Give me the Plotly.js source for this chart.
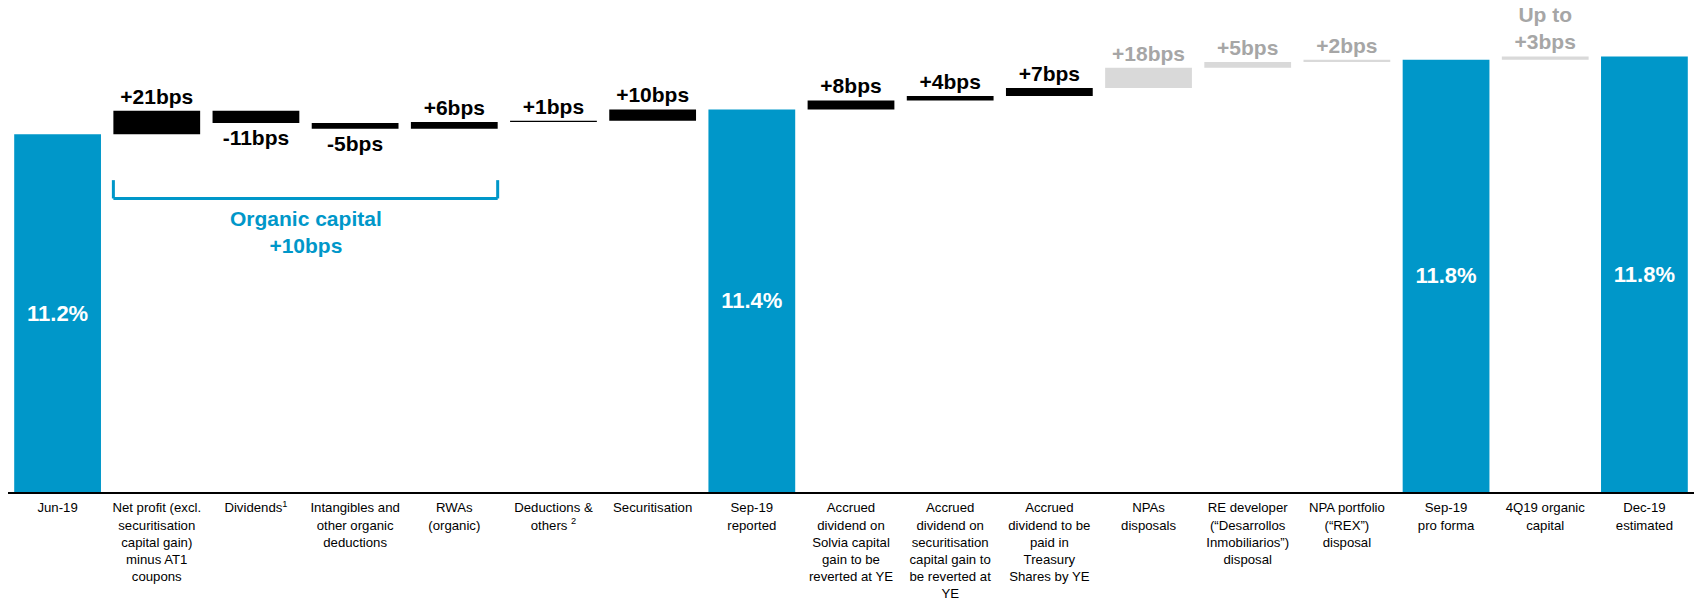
<!DOCTYPE html>
<html>
<head>
<meta charset="utf-8">
<script src="https://cdn.plot.ly/plotly-3.0.1.min.js"></script>
<style>html,body{margin:0;padding:0;background:#fff;}#chart{width:1694px;height:600px;}</style>
</head>
<body>
<div id="chart"></div>
<script>
// ---- data ----
const categories = [
  "Jun-19",
  "Net profit (excl.<br>securitisation<br>capital gain)<br>minus AT1<br>coupons",
  "Dividends<sup>1</sup>",
  "Intangibles and<br>other organic<br>deductions",
  "RWAs<br>(organic)",
  "Deductions &<br>others <sup>2</sup>",
  "Securitisation",
  "Sep-19<br>reported",
  "Accrued<br>dividend on<br>Solvia capital<br>gain to be<br>reverted at YE",
  "Accrued<br>dividend on<br>securitisation<br>capital gain to<br>be reverted at<br>YE",
  "Accrued<br>dividend to be<br>paid in<br>Treasury<br>Shares by YE",
  "NPAs<br>disposals",
  "RE developer<br>(“Desarrollos<br>Inmobiliarios”)<br>disposal",
  "NPA portfolio<br>(“REX”)<br>disposal",
  "Sep-19<br>pro forma",
  "4Q19 organic<br>capital",
  "Dec-19<br>estimated"
];
// measure: absolute start, relative change, total (running sum)
const measures = ["absolute","relative","relative","relative","relative","relative","relative","total",
                  "relative","relative","relative","relative","relative","relative","total","relative","total"];
// CET1 ratio (%) for the start, changes in basis points for the steps
const startRatioPct = 11.2;
const changesBps = [null, 21, -11, -5, 6, 1, 10, null, 8, 4, 7, 18, 5, 2, null, 3, null];
const barLabels = ["11.2%","+21bps","-11bps","-5bps","+6bps","+1bps","+10bps","11.4%",
                   "+8bps","+4bps","+7bps","+18bps","+5bps","+2bps","11.8%","Up to<br>+3bps","11.8%"];
// bar group: "total", "step" (achieved), "pending" (announced / expected)
const groups = ["total","step","step","step","step","step","step","total",
                "step","step","step","pending","pending","pending","total","pending","total"];
const organicRange = [1, 4];           // category indices covered by the bracket
const organicLabel = "Organic capital<br>+10bps";

// ---- style ----
const BLUE = "#0097c9", BLACK = "#000000", GREY_BAR = "#d9d9d9", GREY_TEXT = "#a6a6a6";
const colorOf = {total: BLUE, step: BLACK, pending: GREY_BAR};
const textColorOf = {total: "#ffffff", step: BLACK, pending: GREY_TEXT};
const FONT = "Liberation Sans, Arial, sans-serif";
const yMin = 8.035, pxPerPct = 113, marginT = 10, marginB = 108;
const plotH = 600 - marginT - marginB;
const yMax = yMin + plotH / pxPerPct;
const bargap = 0.125;

// ---- build the waterfall from the data ----
let running = 0;
const bases = [], heights = [];
measures.forEach((m, i) => {
  if (m === "absolute") {
    running = startRatioPct;
    bases.push(yMin); heights.push(running - yMin);
  } else if (m === "total") {
    bases.push(yMin); heights.push(running - yMin);
  } else {
    const d = changesBps[i] / 100;
    bases.push(running); heights.push(d);
    running += d;
  }
});

const trace = {
  type: "bar",
  x: categories,
  y: heights,
  base: bases,
  marker: {color: groups.map(g => colorOf[g]), line: {width: 0}},
  text: barLabels,
  textposition: groups.map(g => g === "total" ? "inside" : "outside"),
  insidetextanchor: "middle",
  textangle: 0,
  constraintext: "none",
  cliponaxis: false,
  textfont: {
    family: FONT,
    size: groups.map(g => g === "total" ? 22 : 21),
    color: groups.map(g => textColorOf[g]),
    weight: "bold"
  },
  hoverinfo: "skip"
};

const half = (1 - bargap) / 2;
const bracketTop = 0.647, bracketBottom = 0.609;
const layout = {
  width: 1694, height: 600,
  margin: {l: 8, r: 0, t: marginT, b: marginB},
  paper_bgcolor: "#fff", plot_bgcolor: "#fff",
  showlegend: false,
  bargap: bargap,
  font: {family: FONT, color: "#000"},
  xaxis: {
    type: "category",
    showline: true, linecolor: "#000", linewidth: 1.5,
    ticks: "", showgrid: false, zeroline: false,
    tickfont: {family: FONT, size: 13.2, color: "#000"},
    tickangle: 0,
    ticklabelstandoff: 3,
    automargin: false
  },
  yaxis: {visible: false, range: [yMin, yMax], showgrid: false, zeroline: false},
  shapes: [
    {type: "line", xref: "x", yref: "paper", x0: organicRange[0] - half, x1: organicRange[0] - half, y0: bracketTop, y1: bracketBottom, line: {color: BLUE, width: 3}},
    {type: "line", xref: "x", yref: "paper", x0: organicRange[0] - half, x1: organicRange[1] + half, y0: bracketBottom, y1: bracketBottom, line: {color: BLUE, width: 3}},
    {type: "line", xref: "x", yref: "paper", x0: organicRange[1] + half, x1: organicRange[1] + half, y0: bracketTop, y1: bracketBottom, line: {color: BLUE, width: 3}}
  ],
  annotations: [
    {xref: "x", yref: "paper", x: (organicRange[0] + organicRange[1]) / 2, y: 0.54,
     text: organicLabel, showarrow: false,
     font: {family: FONT, size: 21, color: BLUE, weight: "bold"}}
  ]
};

Plotly.newPlot("chart", [trace], layout, {staticPlot: true, displayModeBar: false});
</script>
</body>
</html>
